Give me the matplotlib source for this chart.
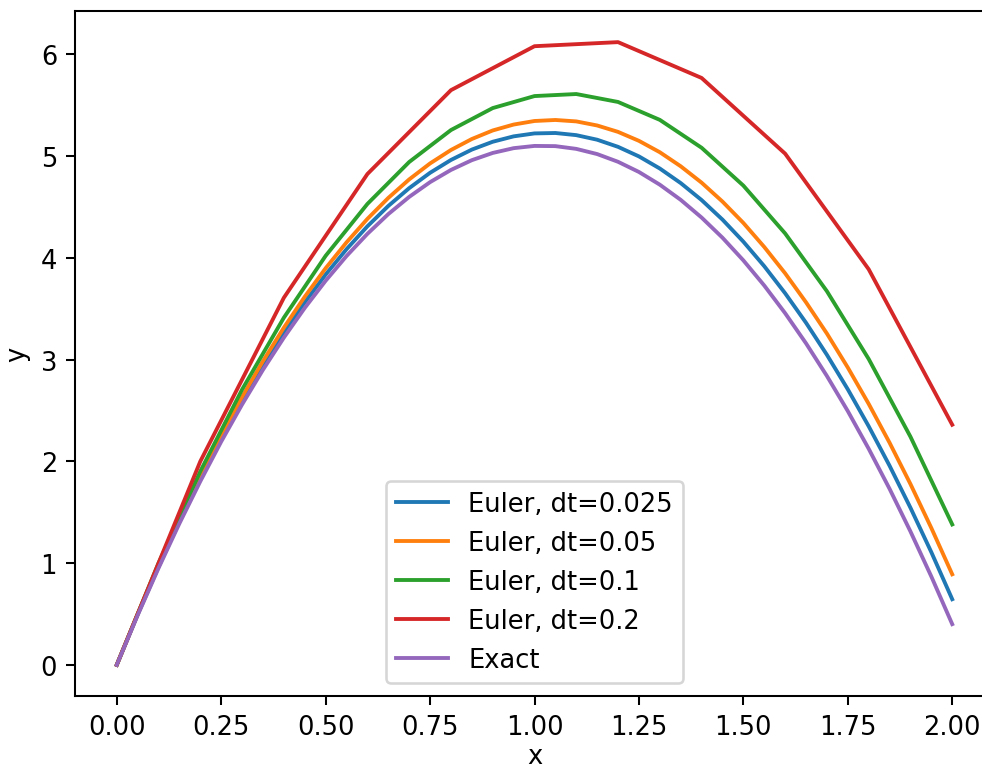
import matplotlib
matplotlib.use('Agg')
import matplotlib.pyplot as plt

# sample times
t_02 = [0.0, 0.2, 0.4, 0.6, 0.8, 1.0, 1.2, 1.4, 1.6, 1.8, 2.0]
t_01 = [round(0.1 * i, 1) for i in range(21)]
t_005 = [round(0.05 * i, 2) for i in range(41)]

# Euler, dt=0.2
y_02 = [0.0, 2.0, 3.608, 4.824, 5.648, 6.08, 6.12, 5.768, 5.024, 3.888, 2.36]

# Euler, dt=0.1
y_01 = [0.0, 1.0, 1.902, 2.706, 3.412, 4.02, 4.53, 4.942, 5.256, 5.472, 5.59,
        5.61, 5.532, 5.356, 5.082, 4.71, 4.24, 3.672, 3.006, 2.242, 1.38]

# Euler, dt=0.05
y_005 = [0.0, 0.5, 0.976, 1.426, 1.853, 2.255, 2.633, 2.985, 3.314, 3.618,
         3.898, 4.152, 4.383, 4.589, 4.771, 4.928, 5.06, 5.168, 5.252, 5.31,
         5.345, 5.355, 5.341, 5.301, 5.238, 5.15, 5.038, 4.9, 4.739, 4.553,
         4.343, 4.107, 3.848, 3.563, 3.256, 2.922, 2.565, 2.183, 1.777,
         1.345, 0.89]

# Euler, dt=0.025
y_0025 = [0.0, 0.494, 0.963, 1.408, 1.829, 2.225, 2.596, 2.943, 3.265, 3.563,
          3.836, 4.085, 4.31, 4.51, 4.685, 4.836, 4.962, 5.064, 5.141, 5.194,
          5.223, 5.227, 5.206, 5.161, 5.091, 4.997, 4.878, 4.735, 4.568,
          4.376, 4.159, 3.918, 3.652, 3.362, 3.047, 2.708, 2.345, 1.957,
          1.544, 1.107, 0.645]

# Exact
y_exact = [0.0, 0.488, 0.951, 1.39, 1.804, 2.194, 2.559, 2.9, 3.216, 3.508,
           3.775, 4.018, 4.236, 4.43, 4.599, 4.744, 4.864, 4.96, 5.031, 5.078,
           5.1, 5.098, 5.071, 5.02, 4.944, 4.844, 4.719, 4.57, 4.396, 4.198,
           3.975, 3.728, 3.456, 3.16, 2.839, 2.494, 2.124, 1.73, 1.311, 0.868,
           0.4]

fig = plt.figure(figsize=(982 / 185, 771 / 185), dpi=185)
ax = fig.add_axes([75 / 982, 74 / 771, 919 / 982, 685 / 771])

ax.plot(t_005, y_0025, label='Euler, dt=0.025')
ax.plot(t_005, y_005, label='Euler, dt=0.05')
ax.plot(t_01, y_01, label='Euler, dt=0.1')
ax.plot(t_02, y_02, label='Euler, dt=0.2')
ax.plot(t_005, y_exact, label='Exact')

ax.set_xlabel('x', labelpad=1)
ax.set_ylabel('y')
ax.legend(loc='lower center')

fig.savefig('out.png', dpi=185)
